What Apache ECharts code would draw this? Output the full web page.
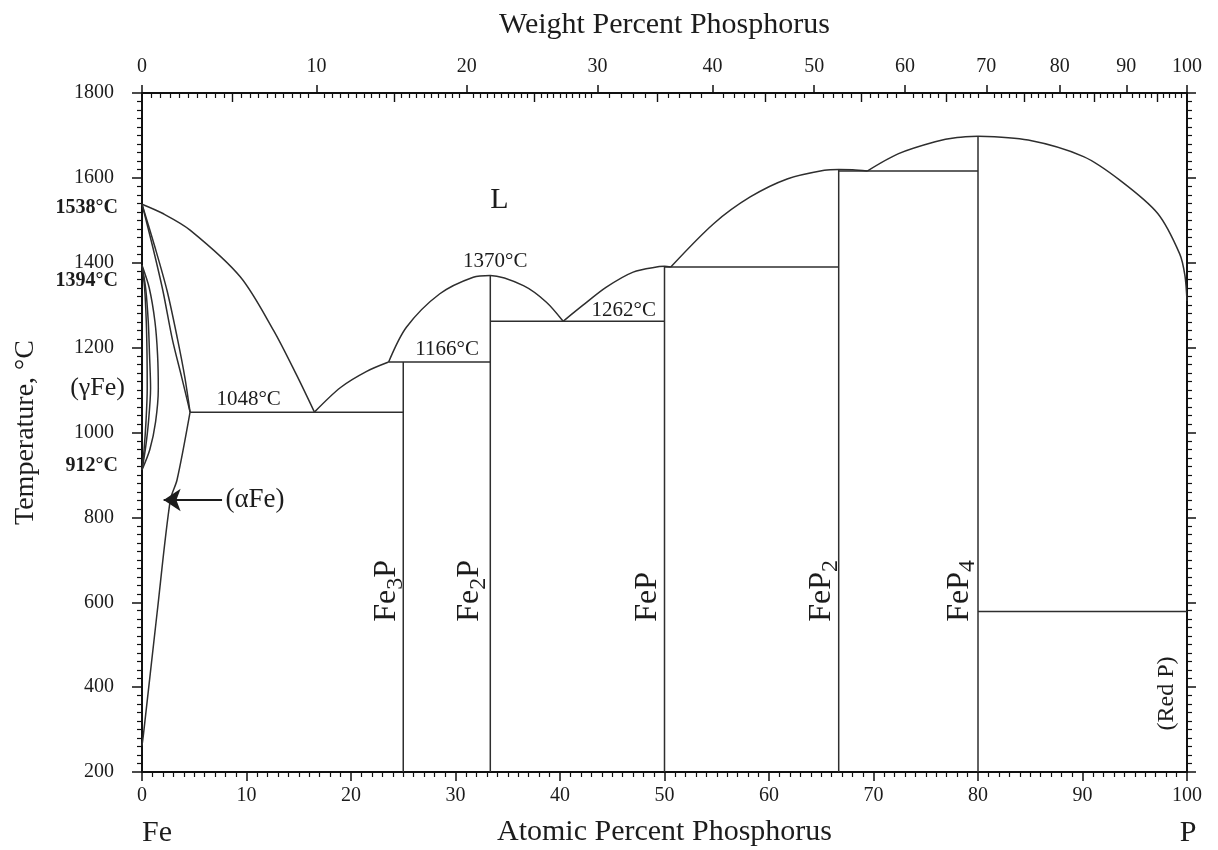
<!DOCTYPE html>
<html>
<head>
<meta charset="utf-8">
<title>Fe-P phase diagram</title>
<script src="https://cdn.jsdelivr.net/npm/echarts@6/dist/echarts.min.js"></script>
<style>
  html, body { margin: 0; background: #fff; }
  #chart { width: 1218px; height: 850px; }
</style>
</head>
<body>
<div id="chart"></div>
<script>
// --- data: atomic % P (x) and temperature in °C (y) ---
const liquidusFe   = [[0, 1538], [2.0, 1516], [4.6, 1477], [9.4, 1367], [12.6, 1240], [14.8, 1135], [16.5, 1048]];
const liquidusFe3P = [[16.5, 1048], [19.0, 1106], [21.5, 1144], [23.6, 1166]];
const liquidusFe2P = [[23.6, 1166], [25.3, 1248], [28.5, 1327], [31.7, 1366], [33.33, 1370], [36.5, 1346], [38.7, 1307], [40.3, 1262]];
const liquidusFeP  = [[40.3, 1262], [42.2, 1300], [44.4, 1342], [47.0, 1378], [49.5, 1391], [50, 1392], [50.6, 1390]];
const liquidusFeP2 = [[50.6, 1390], [54.7, 1492], [58.2, 1555], [61.8, 1598], [65.3, 1618], [66.67, 1620], [68, 1619], [69.4, 1616]];
const liquidusFeP4 = [[69.4, 1616], [72.4, 1657], [75.9, 1685], [78, 1695], [80, 1698]];
const liquidusP    = [[80, 1698], [84.8, 1689], [90.1, 1650], [93.6, 1594], [97.2, 1516], [99.3, 1421], [99.8, 1370], [100, 1310]];

const solidusA = [[0, 1538], [1.0, 1440], [2.0, 1334], [2.9, 1220], [3.8, 1130], [4.6, 1048]];
const solidusB = [[0, 1538], [1.2, 1440], [2.4, 1334], [3.4, 1220], [4.1, 1130], [4.6, 1048]];
const solvusAlpha = [[4.6, 1048], [3.35, 888], [2.71, 841], [1.44, 574], [0.15, 291], [0, 262]];

const gammaInner = [[0, 1394], [0.25, 1340], [0.41, 1261], [0.48, 1183], [0.5, 1104], [0.38, 1025], [0.2, 960], [0, 912]];
const gammaMid   = [[0, 1394], [0.35, 1340], [0.6, 1261], [0.72, 1183], [0.82, 1104], [0.62, 1025], [0.32, 960], [0, 912]];
const gammaOuter = [[0, 1394], [0.7, 1340], [1.24, 1261], [1.49, 1183], [1.56, 1104], [1.3, 1025], [0.75, 960], [0, 912]];

// invariant reactions: [from x, to x, T]
const invariants = [[4.6, 25, 1048], [23.6, 33.33, 1166], [33.33, 50, 1262], [50, 66.67, 1390], [66.67, 80, 1616], [80, 100, 578]];
// compounds: [x, top temperature]
const compounds = [[25, 1166], [33.33, 1370], [50, 1392], [66.67, 1620], [80, 1698]];
const compoundNames = ['Fe{s|3}P', 'Fe{s|2}P', 'FeP', 'FeP{s|2}', 'FeP{s|4}'];
const compoundLabelX = [23.45, 31.35, 48.4, 65.0, 78.2];

const tempNotes = [[33.8, 1402, '1370°C'], [29.2, 1196, '1166°C'], [10.2, 1078, '1048°C'], [46.1, 1287, '1262°C']];
const feNotes = [[0, 1530, '1538°C'], [0, 1357, '1394°C'], [0, 921, '912°C']];

const atTicks = [0, 10, 20, 30, 40, 50, 60, 70, 80, 90, 100];
const wtTicks = [0, 10, 20, 30, 40, 50, 60, 70, 80, 90, 100];
const tempTicks = [200, 400, 600, 800, 1000, 1200, 1400, 1600, 1800];

// --- weight % <-> atomic % (Fe 55.845, P 30.974) ---
const M_P = 30.974, M_FE = 55.845;
function toAtomic(wt) { const p = wt / M_P, f = (100 - wt) / M_FE; return 100 * p / (p + f); }
function toWeight(at) { const p = at * M_P, f = (100 - at) * M_FE; return 100 * p / (p + f); }

const wtMinor = [], wtMid = [];
for (let w = 0.5; w < 100; w += (w < 30 ? 0.5 : 1)) {
  if (w % 10 === 0) continue;
  if (w % 5 === 0) wtMid.push(toAtomic(w)); else wtMinor.push(toAtomic(w));
}

const ink = '#1c1c1c';
const lineInk = '#2e2e2e';
const serif = "'Liberation Serif', 'DejaVu Serif', serif";

function phaseLine(points, curved) {
  return {
    type: 'line', data: points, symbol: 'none', silent: true, z: 3,
    smooth: curved ? 0.3 : false,
    lineStyle: { color: lineInk, width: 1.5 }
  };
}

function textSeries(items, label) {
  return {
    type: 'scatter', symbolSize: 0, silent: true, clip: false, z: 6,
    itemStyle: { opacity: 1 },
    data: items.map(d => ({ value: [d[0], d[1]], label: { formatter: d[2] } })),
    label: Object.assign({ show: true, position: 'inside', fontFamily: serif, color: ink, opacity: 1 }, label)
  };
}

const series = [
  phaseLine(liquidusFe, true), phaseLine(liquidusFe3P, true), phaseLine(liquidusFe2P, true),
  phaseLine(liquidusFeP, true), phaseLine(liquidusFeP2, true), phaseLine(liquidusFeP4, true),
  phaseLine(liquidusP, true),
  phaseLine(solidusA, true), phaseLine(solidusB, true), phaseLine(solvusAlpha, true),
  phaseLine(gammaInner, true), phaseLine(gammaMid, true), phaseLine(gammaOuter, true)
];
invariants.forEach(r => series.push(phaseLine([[r[0], r[2]], [r[1], r[2]]])));
compounds.forEach(c => series.push(phaseLine([[c[0], 200], [c[0], c[1]]])));

// arrow pointing at the (αFe) solvus
series.push({
  type: 'lines', coordinateSystem: 'cartesian2d', silent: true, z: 5,
  symbol: ['none', 'arrow'], symbolSize: [12, 17],
  lineStyle: { color: ink, width: 2, opacity: 1 },
  data: [{ coords: [[7.66, 841], [2.07, 841]] }]
});

series.push(textSeries(tempNotes, { fontSize: 21 }));
series.push(textSeries([[34.2, 1548, 'L']], { fontSize: 30 }));
series.push(textSeries([[7.98, 841, '(αFe)']], { fontSize: 27, position: 'right', distance: 0 }));
series.push(textSeries([[0, 1105, '(γFe)']], { fontSize: 26, position: 'left', distance: 17 }));
series.push(textSeries(feNotes, { fontSize: 20, fontWeight: 'bold', position: 'left', distance: 24 }));
series.push(textSeries([[98.1, 385, '(Red P)']], { fontSize: 24, rotate: 90 }));
series.push(textSeries(compoundLabelX.map((x, i) => [x, 554, compoundNames[i]]), {
  fontSize: 32, lineHeight: 42, rotate: 90, align: 'left', verticalAlign: 'middle',
  rich: { s: { fontSize: 24, lineHeight: 24, verticalAlign: 'bottom', fontFamily: serif, color: ink } }
}));

const axisLine = { show: true, onZero: false, lineStyle: { color: '#111', width: 2 } };
const tickLabel = { fontFamily: serif, fontSize: 20, color: ink };

const chart = echarts.init(document.getElementById('chart'));
chart.setOption({
  animation: false,
  backgroundColor: '#fff',
  grid: { left: 142, right: 31, top: 93, bottom: 78, outerBoundsMode: 'none' },
  xAxis: [
    {
      type: 'value', position: 'bottom', min: 0, max: 100, interval: 10,
      axisLine, splitLine: { show: false },
      axisTick: { customValues: atTicks, length: 9, lineStyle: { color: '#111', width: 1.5 } },
      minorTick: { show: true, splitNumber: 10, length: 5, lineStyle: { color: '#111', width: 1.2 } },
      axisLabel: Object.assign({ customValues: atTicks, margin: 14, formatter: v => String(v) }, tickLabel),
      name: 'Atomic Percent Phosphorus', nameLocation: 'middle', nameGap: 45,
      nameTextStyle: { fontFamily: serif, fontSize: 30, color: ink }
    },
    {
      type: 'value', position: 'top', min: 0, max: 100,
      axisLine, splitLine: { show: false },
      axisTick: { customValues: wtTicks.map(toAtomic), length: 8, lineStyle: { color: '#111', width: 1.5 } },
      axisLabel: Object.assign({
        customValues: wtTicks.map(toAtomic), margin: 16,
        formatter: v => String(Math.round(toWeight(v)))
      }, tickLabel),
      name: 'Weight Percent Phosphorus', nameLocation: 'middle', nameGap: 53,
      nameTextStyle: { fontFamily: serif, fontSize: 30, color: ink }
    },
    {
      type: 'value', position: 'top', min: 0, max: 100,
      axisLine: { show: false }, splitLine: { show: false }, axisLabel: { show: false },
      axisTick: { customValues: wtMinor, inside: true, length: 5, lineStyle: { color: '#111', width: 1.2 } }
    },
    {
      type: 'value', position: 'top', min: 0, max: 100,
      axisLine: { show: false }, splitLine: { show: false }, axisLabel: { show: false },
      axisTick: { customValues: wtMid, inside: true, length: 9, lineStyle: { color: '#111', width: 1.4 } }
    }
  ],
  yAxis: [
    {
      type: 'value', position: 'left', min: 200, max: 1800, interval: 200,
      axisLine, splitLine: { show: false },
      axisTick: { customValues: tempTicks, length: 10, lineStyle: { color: '#111', width: 1.5 } },
      minorTick: { show: true, splitNumber: 10, length: 5, lineStyle: { color: '#111', width: 1.2 } },
      axisLabel: Object.assign({ customValues: tempTicks, margin: 28, formatter: v => String(v) }, tickLabel),
      name: 'Temperature, °C', nameLocation: 'middle', nameGap: 102,
      nameTextStyle: { fontFamily: serif, fontSize: 28, color: ink }
    },
    {
      type: 'value', position: 'right', min: 200, max: 1800, interval: 200,
      axisLine, splitLine: { show: false }, axisLabel: { show: false },
      axisTick: { length: 9, lineStyle: { color: '#111', width: 1.5 } },
      minorTick: { show: true, splitNumber: 10, length: 5, lineStyle: { color: '#111', width: 1.2 } }
    }
  ],
  graphic: [
    { type: 'text', x: 157, y: 833, silent: true,
      style: { text: 'Fe', font: '30px ' + serif, fill: ink, textAlign: 'center', textVerticalAlign: 'middle' } },
    { type: 'text', x: 1188, y: 833, silent: true,
      style: { text: 'P', font: '30px ' + serif, fill: ink, textAlign: 'center', textVerticalAlign: 'middle' } }
  ],
  series
});
</script>
</body>
</html>
